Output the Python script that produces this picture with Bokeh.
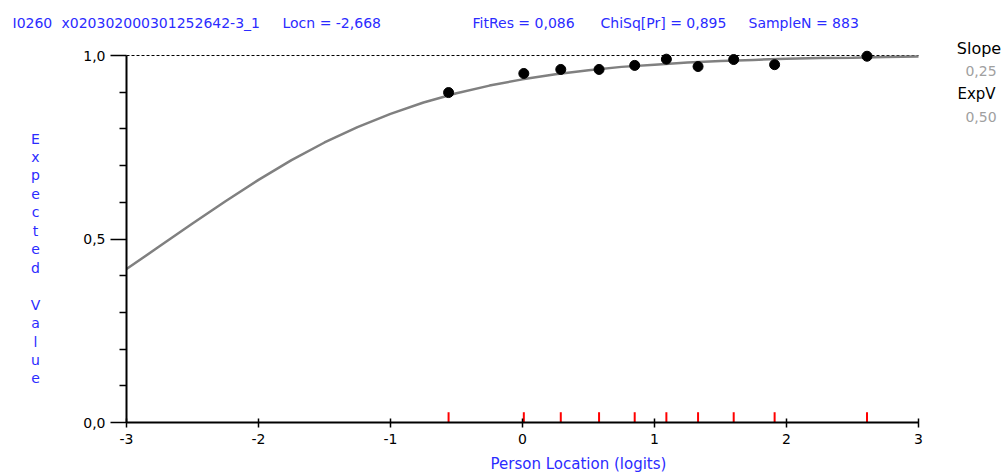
from bokeh.plotting import figure
from bokeh.models import FixedTicker, Label, Range1d
from bokeh.embed import file_html
from bokeh.resources import INLINE

# ---- data ----
person_location = [-0.56, 0.01, 0.29, 0.58, 0.85, 1.09, 1.33, 1.60, 1.91, 2.61]
observed_means = [0.899, 0.951, 0.962, 0.962, 0.973, 0.990, 0.970, 0.989, 0.975, 0.998]

curve_x = [-3.0, -2.75, -2.5, -2.25, -2.0, -1.75, -1.5, -1.25, -1.0, -0.75, -0.5, -0.25,
           0.0, 0.25, 0.5, 0.75, 1.0, 1.25, 1.5, 1.75, 2.0, 2.25, 2.5, 2.75, 3.0]
curve_y = [0.418, 0.480, 0.542, 0.603, 0.661, 0.715, 0.763, 0.805, 0.841, 0.872, 0.897, 0.918,
           0.935, 0.949, 0.960, 0.969, 0.975, 0.981, 0.985, 0.988, 0.991, 0.993, 0.994, 0.996, 0.997]

x_ticks = [-3, -2, -1, 0, 1, 2, 3]
x_tick_labels = ["-3", "-2", "-1", "0", "1", "2", "3"]
y_ticks = [0.0, 0.5, 1.0]
y_tick_labels = ["0,0", "0,5", "1,0"]
y_minor_ticks = [0.1, 0.2, 0.3, 0.4, 0.6, 0.7, 0.8, 0.9]

title_texts = ["I0260", "x020302000301252642-3_1", "Locn = -2,668",
               "FitRes = 0,086", "ChiSq[Pr] = 0,895", "SampleN = 883"]
side_texts = ["Slope", "0,25", "ExpV", "0,50"]
y_title_letters = ["E", "x", "p", "e", "c", "t", "e", "d", "", "V", "a", "l", "u", "e"]
x_title = "Person Location (logits)"

BLUE = "#2b2bff"
FONT = "DejaVu Sans"

W, H = 1004, 472
X0_PX, PX_PER_X = 126, 132.0      # pixel of x=-3, pixels per logit
Y0_PX, PX_PER_Y = 422, 367.0      # pixel of y=0, pixels per unit


def px_x(px):
    return -3 + (px - X0_PX) / PX_PER_X


def px_y(py):
    return (Y0_PX - py) / PX_PER_Y


p = figure(width=W, height=H,
           x_range=Range1d(px_x(0), px_x(W)), y_range=Range1d(px_y(H), px_y(0)),
           output_backend="svg", toolbar_location=None,
           min_border_left=0, min_border_right=0, min_border_top=0, min_border_bottom=0)
p.outline_line_color = None
p.grid.visible = False
p.background_fill_color = "white"
p.border_fill_color = "white"

# x axis (placed at y = 0)
xa = p.xaxis[0]
xa.fixed_location = 0
xa.bounds = (-3, 3)
xa.ticker = FixedTicker(ticks=x_ticks)
xa.major_label_overrides = {t: s for t, s in zip(x_ticks, x_tick_labels)}
xa.axis_line_width = 2
xa.axis_line_color = "black"
xa.major_tick_in = 4
xa.major_tick_out = 5
xa.major_tick_line_width = 1.5
xa.minor_tick_line_color = None
xa.major_label_standoff = 6
xa.major_label_text_font = FONT
xa.major_label_text_font_size = "14px"
xa.major_label_text_color = "black"

# y axis (placed at x = -3)
ya = p.yaxis[0]
ya.fixed_location = -3
ya.bounds = (0, 1)
ya.ticker = FixedTicker(ticks=y_ticks, minor_ticks=y_minor_ticks)
ya.axis_line_width = 2
ya.axis_line_color = "black"
ya.major_tick_in = 0
ya.major_tick_out = 16
ya.major_tick_line_width = 1.5
ya.minor_tick_in = 0
ya.minor_tick_out = 7
ya.minor_tick_line_width = 1.5
ya.minor_tick_line_color = "black"
ya.major_label_standoff = 5
ya.major_label_overrides = {t: s for t, s in zip(y_ticks, y_tick_labels)}
ya.major_label_text_font = FONT
ya.major_label_text_font_size = "14px"
ya.major_label_text_color = "black"

# reference line at expected value 1.0
p.segment(x0=[x_ticks[0]], y0=[1.0], x1=[x_ticks[-1]], y1=[1.0],
          line_color="black", line_width=1, line_dash="3 2")

# expected value curve
p.line(curve_x, curve_y, line_color="#808080", line_width=2.5)

# observed class means
p.scatter(person_location, observed_means, size=10, color="black")

# red rug ticks of class locations
p.segment(x0=person_location, y0=[0] * len(person_location),
          x1=person_location, y1=[0.028] * len(person_location),
          line_color="red", line_width=2)

# header texts
title_px = [12, 61, 282, 472, 600, 748]
for t, px in zip(title_texts, title_px):
    p.add_layout(Label(x=px_x(px), y=px_y(22.5), text=t, text_color=BLUE, text_font=FONT,
                       text_font_size="14px", text_baseline="middle", text_align="left"))

# slope / expected value annotation on the right
side_px = [978.5, 980.5, 976, 980.5]
side_py = [48, 70, 93, 116]
side_col = ["black", "#a0a0a0", "black", "#a0a0a0"]
side_size = ["16px", "14px", "15px", "14px"]
for t, px, py, c, s in zip(side_texts, side_px, side_py, side_col, side_size):
    p.add_layout(Label(x=px_x(px), y=px_y(py), text=t, text_color=c, text_font=FONT,
                       text_font_size=s, text_baseline="middle", text_align="center"))

# vertical axis title, one letter per line
for i, ch in enumerate(y_title_letters):
    if ch:
        p.add_layout(Label(x=px_x(35), y=px_y(138 + i * 18.46), text=ch,
                           text_color=BLUE, text_font=FONT, text_font_size="14px",
                           text_align="center", text_baseline="middle"))

# horizontal axis title
p.add_layout(Label(x=px_x(578), y=px_y(463), text=x_title, text_color=BLUE,
                   text_font=FONT, text_font_size="15px", text_align="center",
                   text_baseline="middle"))

open("out.html", "w").write(file_html(p, INLINE))
